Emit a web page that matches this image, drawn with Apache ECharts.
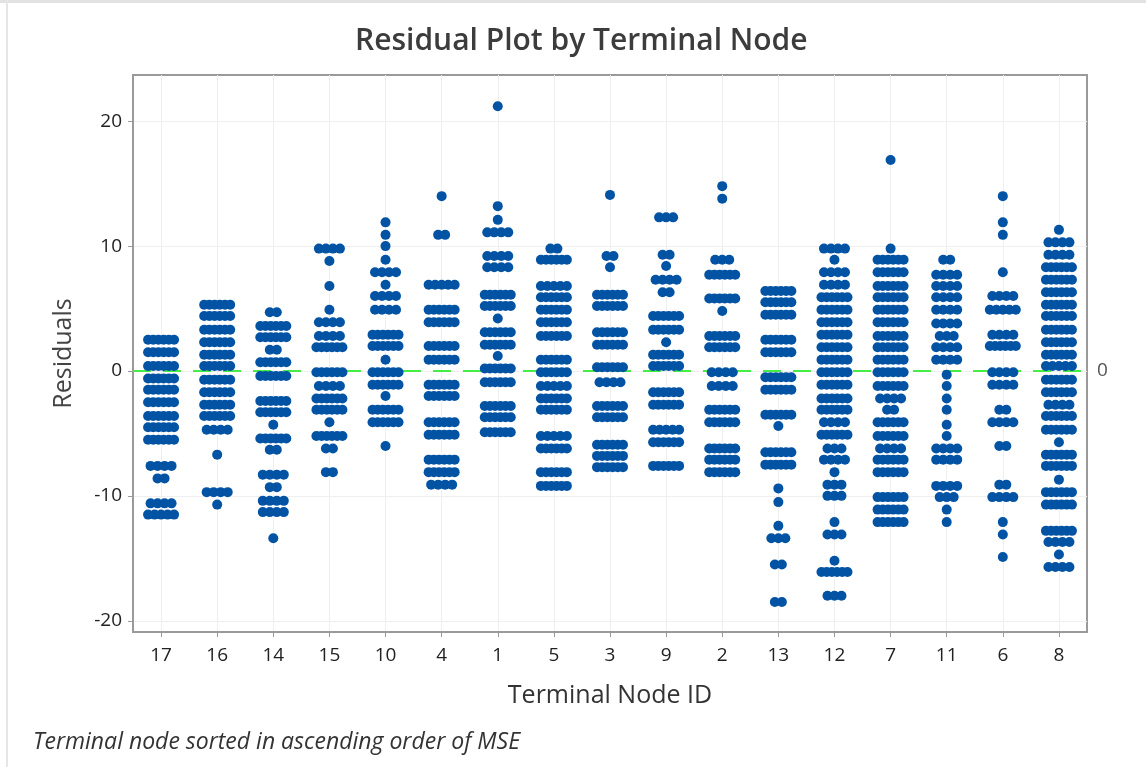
<!DOCTYPE html>
<html>
<head>
<meta charset="utf-8">
<title>Residual Plot by Terminal Node</title>
<script src="https://cdn.jsdelivr.net/npm/echarts@6/dist/echarts.min.js"></script>
<style>
  html, body { margin: 0; padding: 0; background: #fff; }
  #chart { width: 1146px; height: 767px; }
</style>
</head>
<body>
<div id="chart"></div>
<script>
// terminal nodes, sorted by MSE (as in the picture)
const nodes = ['17', '16', '14', '15', '10', '4', '1', '5', '3', '9', '2', '13', '12', '7', '11', '6', '8']
const yTicks = [-20, -10, 0, 10, 20]
const refValue = 0

// each row: [residual, number of dots at that value]
const rows17 = [[2.5, 6], [1.5, 6], [0.4, 6], [-0.6, 6], [-1.5, 6], [-2.5, 6], [-3.6, 6], [-4.5, 6], [-5.5, 6], [-7.6, 4], [-8.6, 2], [-10.6, 4], [-11.5, 5]]
const rows16 = [[5.3, 6], [4.4, 6], [3.3, 6], [2.3, 6], [1.3, 6], [0.4, 6], [-0.7, 6], [-1.7, 6], [-2.7, 6], [-3.6, 6], [-4.7, 4], [-6.7, 1], [-9.7, 4], [-10.7, 1]]
const rows14 = [[4.7, 2], [3.6, 6], [2.7, 6], [1.7, 2], [0.7, 6], [-0.4, 6], [-2.4, 6], [-3.3, 6], [-4.3, 1], [-5.4, 6], [-6.3, 2], [-8.3, 4], [-9.3, 2], [-10.4, 4], [-11.3, 4], [-13.4, 1]]
const rows15 = [[9.8, 4], [8.8, 1], [6.8, 1], [4.9, 1], [3.9, 4], [2.8, 4], [1.9, 6], [-0.1, 6], [-1.2, 4], [-2.2, 6], [-3.1, 6], [-4.1, 1], [-5.2, 6], [-6.2, 2], [-8.1, 2]]
const rows10 = [[11.9, 1], [10.9, 1], [10.0, 1], [8.9, 1], [7.9, 4], [6.9, 1], [6.0, 4], [4.9, 4], [2.9, 6], [2.0, 6], [0.9, 1], [-0.1, 6], [-1.1, 6], [-2.0, 1], [-3.1, 6], [-4.1, 6], [-6.0, 1]]
const rows4 = [[14.0, 1], [10.9, 2], [6.9, 5], [4.9, 6], [3.9, 6], [2.0, 6], [0.9, 6], [-1.1, 6], [-2.0, 6], [-4.1, 6], [-5.1, 6], [-7.1, 6], [-8.1, 6], [-9.1, 4]]
const rows1 = [[21.2, 1], [13.2, 1], [12.1, 1], [11.1, 4], [9.2, 4], [8.3, 4], [6.1, 6], [5.2, 6], [4.2, 1], [3.1, 6], [2.1, 6], [1.2, 1], [0.2, 6], [-0.9, 6], [-2.8, 6], [-3.7, 6], [-4.9, 6]]
const rows5 = [[9.8, 2], [8.9, 6], [6.8, 5], [5.9, 6], [4.9, 6], [3.9, 6], [2.8, 6], [0.9, 6], [-0.1, 6], [-1.2, 5], [-2.2, 6], [-3.1, 6], [-5.2, 5], [-6.2, 6], [-8.1, 6], [-9.2, 6]]
const rows3 = [[14.1, 1], [9.2, 2], [8.3, 1], [6.1, 6], [5.2, 6], [3.1, 6], [2.1, 6], [0.3, 6], [-0.9, 4], [-2.8, 6], [-3.7, 6], [-5.9, 6], [-6.8, 6], [-7.7, 6]]
const rows9 = [[12.3, 3], [9.3, 2], [8.4, 1], [7.3, 4], [6.3, 2], [4.4, 6], [3.3, 6], [2.3, 1], [1.3, 6], [0.4, 6], [-1.7, 6], [-2.7, 6], [-4.7, 5], [-5.7, 6], [-7.6, 6]]
const rows2 = [[14.8, 1], [13.8, 1], [8.9, 3], [7.7, 6], [5.8, 6], [4.8, 1], [2.8, 6], [1.9, 6], [-0.1, 4], [-1.2, 4], [-3.1, 6], [-4.1, 6], [-6.2, 6], [-7.1, 6], [-8.1, 6]]
const rows13 = [[6.4, 6], [5.5, 6], [4.5, 6], [2.5, 6], [1.5, 6], [-0.5, 6], [-1.5, 6], [-3.5, 6], [-4.4, 1], [-6.5, 6], [-7.5, 6], [-9.4, 1], [-10.5, 1], [-12.4, 1], [-13.4, 3], [-15.5, 2], [-18.5, 2]]
const rows12 = [[9.8, 4], [8.9, 1], [7.9, 4], [6.9, 4], [5.9, 6], [4.9, 6], [3.9, 6], [2.9, 6], [1.9, 6], [0.9, 6], [-0.1, 6], [-1.1, 6], [-2.2, 6], [-3.1, 6], [-4.1, 4], [-5.1, 6], [-6.2, 3], [-7.1, 4], [-8.1, 1], [-9.1, 3], [-10.0, 3], [-12.1, 1], [-13.1, 3], [-15.2, 1], [-16.1, 6], [-18.0, 3]]
const rows7 = [[16.9, 1], [9.8, 1], [8.9, 6], [7.9, 6], [6.8, 6], [5.9, 6], [4.9, 6], [3.9, 6], [2.8, 6], [1.9, 6], [0.9, 6], [-0.1, 6], [-1.2, 6], [-2.2, 4], [-3.1, 2], [-4.1, 6], [-5.2, 6], [-6.2, 4], [-7.1, 6], [-8.1, 6], [-10.1, 6], [-11.1, 6], [-12.1, 6]]
const rows11 = [[8.9, 2], [7.7, 4], [6.8, 4], [5.9, 4], [4.9, 4], [3.8, 4], [2.8, 3], [1.9, 4], [0.9, 4], [-0.3, 1], [-1.2, 1], [-2.2, 1], [-3.1, 1], [-4.3, 1], [-5.2, 1], [-6.2, 4], [-7.1, 4], [-9.2, 4], [-10.1, 3], [-11.1, 1], [-12.1, 1]]
const rows6 = [[14.0, 1], [11.9, 1], [10.9, 1], [7.9, 1], [6.0, 4], [4.9, 5], [2.9, 4], [2.0, 6], [-0.1, 4], [-1.1, 4], [-3.1, 2], [-4.1, 4], [-6.0, 2], [-9.1, 2], [-10.1, 4], [-12.1, 1], [-13.1, 1], [-14.9, 1]]
const rows8 = [[11.3, 1], [10.3, 4], [9.3, 4], [8.3, 6], [7.3, 6], [6.3, 6], [5.3, 6], [4.4, 6], [3.3, 6], [2.3, 6], [1.3, 6], [0.4, 5], [-0.7, 6], [-1.7, 6], [-2.7, 4], [-3.6, 6], [-4.7, 6], [-5.7, 1], [-6.7, 6], [-7.6, 6], [-8.7, 1], [-9.7, 6], [-10.7, 6], [-12.8, 6], [-13.7, 4], [-14.7, 1], [-15.7, 4]]

const rowsByNode = [rows17, rows16, rows14, rows15, rows10, rows4, rows1, rows5, rows3, rows9, rows2, rows13, rows12, rows7, rows11, rows6, rows8]

// dots with the same residual sit side by side
const dotSize = 10
const dots = []
rowsByNode.forEach((rows, i) => {
  rows.forEach(([v, n]) => {
    const step = n > 1 ? Math.min(7, 26 / (n - 1)) : 0
    for (let j = 0; j < n; j++) {
      dots.push({ value: [i, v], symbolOffset: [(j - (n - 1) / 2) * step, 0] })
    }
  })
})

const gray = '#9a9a9a'
const font = '"Open Sans", "Noto Sans", sans-serif'

// dashed green line across the whole plot at the reference value
const dashLen = 18
const gapLen = 12
const renderRefLine = (params, api) => {
  const cs = params.coordSys
  const y = api.coord([0, api.value(1)])[1]
  const right = cs.x + cs.width
  const children = []
  for (let x = cs.x; x < right; x += dashLen + gapLen) {
    children.push({
      type: 'line',
      shape: { x1: x, y1: y, x2: Math.min(x + dashLen, right), y2: y },
      style: { stroke: '#44ee44', lineWidth: 2 }
    })
  }
  children.push({
    type: 'text',
    x: right + 10,
    y: y,
    style: { text: String(api.value(1)), fontFamily: font, fontSize: 19, fill: '#555', verticalAlign: 'middle', align: 'left' }
  })
  return { type: 'group', children }
}

const chart = echarts.init(document.getElementById('chart'), null, { renderer: 'canvas' })

chart.setOption({
  animation: false,
  backgroundColor: '#fff',
  textStyle: { fontFamily: font },
  title: {
    text: 'Residual Plot by Terminal Node',
    left: 350,
    top: 21,
    textStyle: { fontFamily: font, fontSize: 30, fontWeight: 600, color: '#3c3c3c' }
  },
  grid: {
    left: 133,
    right: 59,
    top: 75,
    bottom: 135,
    show: true,
    borderColor: gray,
    borderWidth: 2
  },
  xAxis: {
    type: 'category',
    data: nodes,
    boundaryGap: true,
    name: 'Terminal Node ID',
    nameLocation: 'middle',
    nameGap: 51,
    nameTextStyle: { fontFamily: font, fontSize: 25, color: '#333' },
    axisLine: { show: true, onZero: false, lineStyle: { color: gray, width: 2 } },
    axisTick: { show: true, alignWithLabel: true, length: 5, lineStyle: { color: gray } },
    axisLabel: { fontFamily: font, fontSize: 19, color: '#222', margin: 14, interval: 0 },
    splitLine: { show: true, alignWithLabel: true, lineStyle: { color: '#efefef', width: 1 } }
  },
  yAxis: {
    type: 'value',
    min: -20.9,
    max: 23.7,
    name: 'Residuals',
    nameLocation: 'middle',
    nameGap: 57,
    nameTextStyle: { fontFamily: font, fontSize: 25, color: '#444' },
    axisLine: { show: true, onZero: false, lineStyle: { color: gray, width: 2 } },
    axisTick: { show: true, customValues: yTicks, length: 5, lineStyle: { color: gray } },
    axisLabel: { customValues: yTicks, fontFamily: font, fontSize: 19, color: '#222', margin: 11 },
    splitLine: { show: true, lineStyle: { color: '#efefef', width: 1 } }
  },
  series: [
    {
      type: 'custom',
      z: 1,
      silent: true,
      clip: false,
      renderItem: renderRefLine,
      data: [[0, refValue]]
    },
    {
      type: 'scatter',
      z: 3,
      symbol: 'circle',
      symbolSize: dotSize,
      progressive: 0,
      itemStyle: { color: '#0353a4', opacity: 1 },
      data: dots
    }
  ],
  graphic: [
    { type: 'rect', left: 0, top: 0, shape: { width: 1146, height: 3 }, style: { fill: '#e2e2e2' }, silent: true },
    { type: 'rect', left: 6, top: 0, shape: { width: 2, height: 767 }, style: { fill: '#e6e6e6' }, silent: true },
    {
      type: 'text',
      left: 33,
      top: 731,
      style: { text: 'Terminal node sorted in ascending order of MSE', fontFamily: font, fontSize: 23, fontStyle: 'italic', fill: '#333' },
      silent: true
    }
  ]
})
</script>
</body>
</html>
